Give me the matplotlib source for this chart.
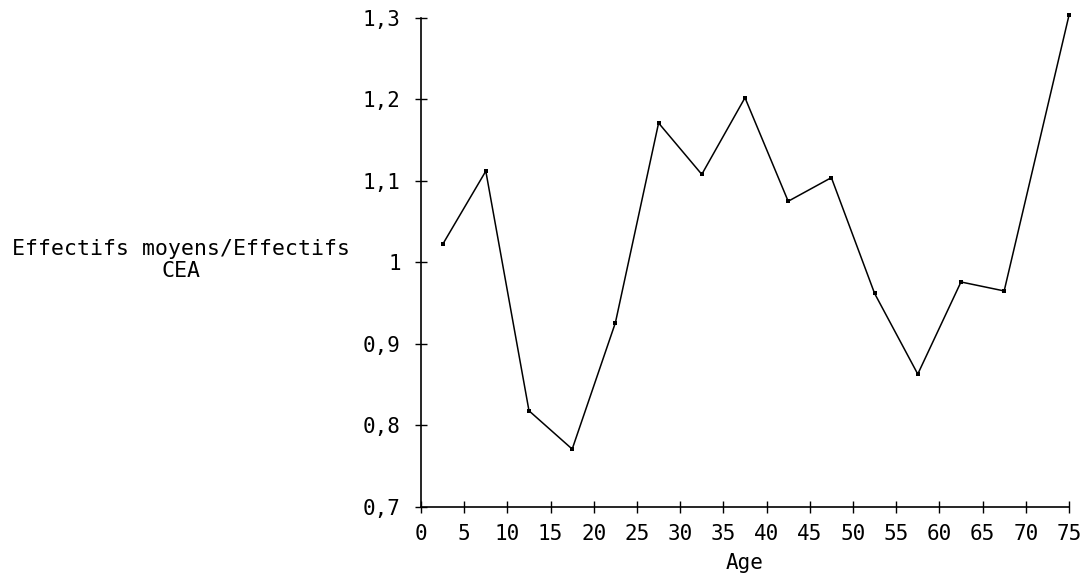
import matplotlib
matplotlib.use('Agg')
import matplotlib.pyplot as plt
from matplotlib.ticker import FuncFormatter

# données
ages = [2.5, 7.5, 12.5, 17.5, 22.5, 27.5, 32.5, 37.5, 42.5, 47.5,
        52.5, 57.5, 62.5, 67.5, 75]
ratio = [1.022, 1.112, 0.818, 0.771, 0.926, 1.171, 1.108, 1.202, 1.075, 1.104,
         0.962, 0.863, 0.976, 0.965, 1.303]

x_ticks = list(range(0, 80, 5))
y_ticks = [0.7, 0.8, 0.9, 1.0, 1.1, 1.2, 1.3]

plt.rcParams['font.family'] = ['DejaVu Sans Mono']

fig = plt.figure(figsize=(10.89, 5.83), dpi=100)
ax = fig.add_axes([0.3866, 0.1304, 0.595, 0.839])

ax.plot(ages, ratio, color='black', linewidth=1.1, clip_on=False,
        marker='s', markersize=2.8, markerfacecolor='black', markeredgewidth=0)

ax.set_xlim(0, 75)
ax.set_ylim(0.7, 1.3)
ax.set_xticks(x_ticks)
ax.set_yticks(y_ticks)


def fmt_fr(v, pos):
    # format français avec virgule
    if abs(v - round(v)) < 1e-9:
        return f"{int(round(v))}"
    return f"{v:.1f}".replace('.', ',')


ax.yaxis.set_major_formatter(FuncFormatter(fmt_fr))
ax.xaxis.set_major_formatter(FuncFormatter(lambda v, p: f"{int(v)}"))

for side in ['top', 'right']:
    ax.spines[side].set_visible(False)
for side in ['left', 'bottom']:
    ax.spines[side].set_linewidth(1.2)

ax.tick_params(axis='both', direction='inout', length=9, width=1.0,
               labelsize=15, colors='black')
ax.tick_params(axis='y', pad=10)
ax.tick_params(axis='x', pad=8)

ax.set_xlabel("Age", fontsize=15, labelpad=6)
ax.set_ylabel("Effectifs moyens/Effectifs\nCEA", fontsize=15.5, rotation=0,
              ha='center', va='center', linespacing=1.1)
ax.yaxis.set_label_coords(-0.370, 0.505)

plt.savefig("out.png", dpi=100)
plt.close()
